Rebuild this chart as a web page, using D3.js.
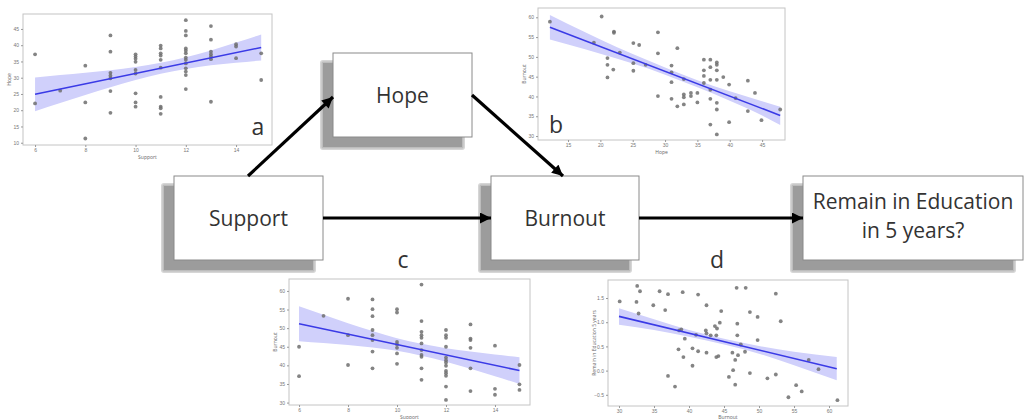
<!DOCTYPE html>
<html lang="en">
<head>
<meta charset="UTF-8">
<title>Support, Hope, Burnout</title>
<style>
  body { margin: 0; background: #fff; }
  svg { display: block; font-family: "Open Sans", sans-serif; }
  .tick text { fill: #777; font-size: 5px; }
  .tick line { stroke: #999; }
  .domain { display: none; }
</style>
</head>
<body>
<div id="chart"></div>
<script src="https://d3js.org/d3.v7.min.js"></script>
<script>
// ---- data ----
// a: Support (x) vs Hope (y)
const hopeVsSupport = [
  [6,37.2],[6,22.1],[7,26.0],[8,33.7],[8,22.4],[8,11.3],
  [9,43.0],[9,38.0],[9,31.5],[9,30.6],[9,29.8],[9,25.9],[9,19.2],
  [10,37.2],[10,36.5],[10,35.8],[10,34.9],[10,32.4],[10,31.3],[10,25.2],[10,22.4],[10,21.1],
  [11,39.9],[11,39.0],[11,37.5],[11,36.8],[11,35.5],[11,33.1],[11,24.1],[11,21.1],[11,20.6],[11,18.9],
  [12,47.7],[12,44.4],[12,43.0],[12,39.0],[12,38.3],[12,37.5],[12,36.2],[12,35.5],[12,34.4],[12,32.9],[12,31.9],[12,30.8],[12,26.5],
  [13,45.9],[13,41.7],[13,38.0],[13,37.2],[13,36.5],[13,35.7],[13,22.6],
  [14,40.3],[14,39.6],[14,36.0],[15,37.5],[15,29.3]
];
const hopeFit = [[6,24.9],[15,39.3]];
const hopeBandX  = [6,7,8,9,10,11,12,13,14,15];
const hopeBandLo = [19.7,22.2,24.7,27.1,29.3,31.2,32.7,33.8,34.6,35.3];
const hopeBandHi = [30.1,30.8,31.5,32.3,33.3,34.6,36.3,38.4,40.8,43.3];

// b: Hope (x) vs Burnout (y)
const burnoutVsHope = [
  [12.2,58.9],[19.0,53.6],[20.2,60.2],[22.1,56.4],[22.1,56.1],[21.1,49.7],[21.1,48.0],[21.1,44.8],
  [23.0,51.1],[22.0,46.8],[25.1,53.5],[26.0,53.0],[25.1,48.4],[25.1,46.5],[27.0,48.0],
  [28.9,56.2],[28.9,50.9],[28.9,40.1],[31.0,47.8],[31.0,46.1],[31.0,43.6],[31.0,39.4],
  [31.9,52.2],[31.9,37.5],[32.9,44.4],[32.9,40.5],[32.9,39.8],[32.9,38.0],[34.0,40.9],[34.0,40.1],
  [35.0,40.9],[35.0,38.5],[36.0,49.3],[36.0,46.6],[36.0,45.2],[36.0,43.4],
  [37.0,49.3],[37.0,47.4],[37.0,44.2],[37.0,41.7],[37.0,39.4],[37.0,32.9],
  [38.0,48.6],[38.0,48.0],[38.0,46.6],[38.0,44.2],[38.0,38.4],[38.0,36.7],[38.0,30.4],
  [39.0,44.9],[39.9,43.0],[39.9,33.5],[40.9,39.6],[42.8,44.0],[42.8,36.3],[43.9,40.9],[44.9,34.0],[47.8,36.7]
];
const burnoutHopeFit = [[12.2,57.5],[47.8,35.2]];
const burnoutHopeBandX  = [12.2,15,20,25,30,35,40,45,47.8];
const burnoutHopeBandLo = [54.4,53.1,50.8,48.3,45.5,42.3,38.9,35.2,32.8];
const burnoutHopeBandHi = [60.6,58.3,54.4,50.7,47.3,44.1,41.3,38.8,37.4];

// c: Support (x) vs Burnout (y)
const burnoutVsSupport = [
  [6,45.0],[6,37.1],[7,53.3],[8,57.9],[8,48.1],[8,40.1],
  [9,57.7],[9,55.1],[9,53.2],[9,49.5],[9,48.1],[9,46.8],[9,43.7],[9,39.2],
  [10,55.1],[10,54.2],[10,46.3],[10,45.6],[10,44.7],[10,43.2],[10,40.4],
  [11,61.7],[11,51.9],[11,49.0],[11,48.1],[11,47.4],[11,45.9],[11,44.1],[11,42.8],[11,42.3],[11,39.2],[11,36.1],
  [12,49.5],[12,48.1],[12,47.4],[12,45.0],[12,42.1],[12,41.4],[12,40.8],[12,39.9],[12,38.5],[12,37.9],[12,37.2],[12,34.3],[12,30.7],
  [13,51.0],[13,47.2],[13,46.8],[13,44.7],[13,39.2],[13,33.1],
  [14,45.3],[14,33.7],[14,32.1],[15,40.1],[15,34.9],[15,33.4]
];
const burnoutSupportFit = [[6,51.2],[15,38.6]];
const burnoutSupportBandX  = [6,7,8,9,10,11,12,13,14,15];
const burnoutSupportBandLo = [46.5,46.0,45.5,44.8,43.9,42.6,41.0,39.1,37.1,35.0];
const burnoutSupportBandHi = [55.9,53.6,51.3,49.2,47.3,45.8,44.6,43.7,42.9,42.2];

// d: Burnout (x) vs Remain in Education 5 years (y)
const remainVsBurnout = [
  [30.1,1.43],[32.6,1.75],[33.0,1.64],[32.5,1.42],[32.8,1.18],[34.9,1.35],[35.8,1.64],[36.6,1.25],
  [37.0,1.58],[37.0,-0.11],[38.0,-0.33],[38.5,0.44],[38.6,0.83],[38.9,0.85],[39.1,1.62],[39.2,0.28],
  [39.4,0.66],[40.5,0.46],[40.5,0.10],[41.0,0.74],[41.3,0.40],[41.3,1.57],[42.5,1.35],[42.4,0.83],
  [42.5,0.77],[42.5,0.37],[43.1,0.73],[43.7,0.92],[44.0,0.87],[43.9,0.73],[43.9,0.28],[44.2,0.30],
  [44.4,0.99],[44.6,1.23],[45.7,-0.13],[46.2,0.37],[46.3,0.01],[46.6,0.22],[46.6,-0.29],[46.8,1.71],
  [46.9,0.97],[46.9,0.73],[47.0,0.32],[47.4,0.54],[48.0,0.39],[48.1,1.71],[48.7,1.21],[48.7,-0.05],
  [49.8,1.11],[49.8,0.63],[51.2,-0.16],[52.4,1.59],[52.4,-0.08],[53.1,1.02],
  [54.2,-0.55],[55.3,-0.30],[56.1,-0.43],[57.1,0.22],[58.5,0.03],[61.2,-0.61]
];
const remainFit = [[30,1.12],[61.1,0.04]];
const remainBandX  = [30,35,40,45,50,55,61.1];
const remainBandLo = [0.95,0.84,0.70,0.54,0.35,0.11,-0.20];
const remainBandHi = [1.29,1.06,0.84,0.66,0.51,0.39,0.28];

// ---- diagram ----
const boxes = [
  {id: "support", lines: ["Support"], x: 174, y: 176, w: 149, h: 84},
  {id: "hope", lines: ["Hope"], x: 333, y: 53, w: 139, h: 84},
  {id: "burnout", lines: ["Burnout"], x: 491, y: 176, w: 148, h: 84},
  {id: "remain", lines: ["Remain in Education", "in 5 years?"], x: 803, y: 176, w: 220, h: 84}
];
const arrows = [
  [[248,176],[333,97]],
  [[472,95],[563,176]],
  [[323,218],[491,218]],
  [[639,218],[803,218]]
];
const letters = [
  {t: "a", x: 258, y: 135}, {t: "b", x: 556, y: 133},
  {t: "c", x: 403, y: 268}, {t: "d", x: 717, y: 268}
];

const width = 1024, height = 419;
const svg = d3.select("#chart").append("svg")
  .attr("width", width).attr("height", height);

const defs = svg.append("defs");
defs.append("marker").attr("id", "head")
  .attr("viewBox", "0 0 10 10").attr("refX", 10).attr("refY", 5)
  .attr("markerUnits", "userSpaceOnUse")
  .attr("markerWidth", 12).attr("markerHeight", 11)
  .attr("orient", "auto")
  .append("path").attr("d", "M0,0L10,5L0,10Z").attr("fill", "#000");

// scatter panels
const panels = [
  {data: hopeVsSupport, fit: hopeFit, bx: hopeBandX, lo: hopeBandLo, hi: hopeBandHi,
   x0: 23, x1: 272, y0: 14, y1: 145, xd: [5.52, 15.43], yd: [9.3, 49.6],
   xt: [6,8,10,12,14], yt: [10,15,20,25,30,35,40,45], fmt: d3.format("d"),
   xl: "Support", yl: "Hope"},
  {data: burnoutVsHope, fit: burnoutHopeFit, bx: burnoutHopeBandX, lo: burnoutHopeBandLo, hi: burnoutHopeBandHi,
   x0: 538, x1: 785, y0: 8, y1: 140, xd: [10.36, 48.54], yd: [29.0, 62.35],
   xt: [15,20,25,30,35,40,45], yt: [30,35,40,45,50,55,60], fmt: d3.format("d"),
   xl: "Hope", yl: "Burnout"},
  {data: burnoutVsSupport, fit: burnoutSupportFit, bx: burnoutSupportBandX, lo: burnoutSupportBandLo, hi: burnoutSupportBandHi,
   x0: 289, x1: 530, y0: 279, y1: 405, xd: [5.59, 15.43], yd: [29.35, 63.2],
   xt: [6,8,10,12,14], yt: [30,35,40,45,50,55,60], fmt: d3.format("d"),
   xl: "Support", yl: "Burnout"},
  {data: remainVsBurnout, fit: remainFit, bx: remainBandX, lo: remainBandLo, hi: remainBandHi,
   x0: 608, x1: 848, y0: 280, y1: 406, xd: [28.43, 62.71], yd: [-0.731, 1.872],
   xt: [30,35,40,45,50,55,60], yt: [-0.5,0,0.5,1,1.5], fmt: d3.format(".1f"),
   xl: "Burnout", yl: "Remain in Education 5 years"}
];

panels.forEach(p => {
  const x = d3.scaleLinear().domain(p.xd).range([p.x0, p.x1]);
  const y = d3.scaleLinear().domain(p.yd).range([p.y1, p.y0]);
  const g = svg.append("g");

  g.append("rect")
    .attr("x", p.x0).attr("y", p.y0)
    .attr("width", p.x1 - p.x0).attr("height", p.y1 - p.y0)
    .attr("fill", "#fff").attr("stroke", "#c4c4c4").attr("stroke-width", 1);

  g.append("path")
    .datum(p.bx.map((v, i) => [v, p.lo[i], p.hi[i]]))
    .attr("fill", "#d0d0fb")
    .attr("d", d3.area().curve(d3.curveMonotoneX)
      .x(d => x(d[0])).y0(d => y(d[1])).y1(d => y(d[2])));

  g.selectAll("circle").data(p.data).join("circle")
    .attr("cx", d => x(d[0])).attr("cy", d => y(d[1]))
    .attr("r", 1.9).attr("fill", "#6e6e6e").attr("opacity", 0.85);

  g.append("path").datum(p.fit)
    .attr("fill", "none").attr("stroke", "#3a3ae6").attr("stroke-width", 1.6)
    .attr("d", d3.line().x(d => x(d[0])).y(d => y(d[1])));

  g.append("g").attr("transform", `translate(0,${p.y1})`)
    .call(d3.axisBottom(x).tickValues(p.xt).tickSize(2).tickPadding(1).tickFormat(d3.format("d")));
  g.append("g").attr("transform", `translate(${p.x0},0)`)
    .call(d3.axisLeft(y).tickValues(p.yt).tickSize(2).tickPadding(2).tickFormat(p.fmt));

  g.append("text")
    .attr("x", (p.x0 + p.x1) / 2).attr("y", Math.min(p.y1 + 14, 418.6))
    .attr("text-anchor", "middle").attr("font-size", 5).attr("fill", "#666")
    .text(p.xl);
  g.append("text")
    .attr("transform", `translate(${p.x0 - 12},${(p.y0 + p.y1) / 2}) rotate(-90)`)
    .attr("text-anchor", "middle").attr("font-size", 5).attr("fill", "#666")
    .text(p.yl);
});

// boxes with a soft drop shadow (stacked rects, no filter)
const bg = svg.selectAll("g.box").data(boxes).join("g").attr("class", "box");
[["#d6d6d6", 3], ["#bdbdbd", 1.5], ["#9c9c9c", 0]].forEach(([c, pad]) => {
  bg.append("rect")
    .attr("x", d => d.x - 10 - pad).attr("y", d => d.y + 10 - pad)
    .attr("width", d => d.w + 2 * pad).attr("height", d => d.h + 2 * pad)
    .attr("rx", pad).attr("fill", c);
});
bg.append("rect")
  .attr("x", d => d.x).attr("y", d => d.y)
  .attr("width", d => d.w).attr("height", d => d.h)
  .attr("fill", "#fff").attr("stroke", "#8a8a8a").attr("stroke-width", 1);
bg.each(function(d) {
  const t = d3.select(this).append("text")
    .attr("text-anchor", "middle").attr("font-size", 21).attr("fill", "#333");
  const base = d.lines.length === 1 ? d.y + 50 : d.y + 33;
  d.lines.forEach((l, i) => {
    t.append("tspan").attr("x", d.x + d.w / 2).attr("y", base + i * 29).text(l);
  });
});

// arrows on top of the box shadows
svg.selectAll("line.arrow").data(arrows).join("line")
  .attr("class", "arrow")
  .attr("x1", d => d[0][0]).attr("y1", d => d[0][1])
  .attr("x2", d => d[1][0]).attr("y2", d => d[1][1])
  .attr("stroke", "#000").attr("stroke-width", 3.2)
  .attr("marker-end", "url(#head)");

// panel letters
svg.selectAll("text.letter").data(letters).join("text")
  .attr("class", "letter")
  .attr("x", d => d.x).attr("y", d => d.y)
  .attr("text-anchor", "middle").attr("font-size", 23).attr("fill", "#333")
  .text(d => d.t);
</script>
</body>
</html>
